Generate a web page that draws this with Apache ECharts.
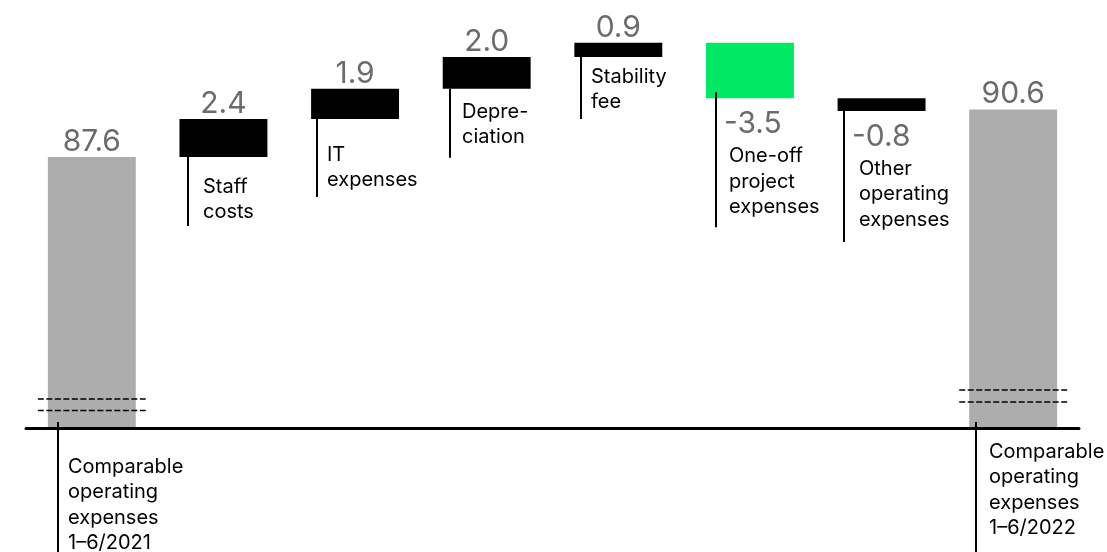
<!DOCTYPE html>
<html>
<head>
<meta charset="utf-8">
<script src="https://cdn.jsdelivr.net/npm/echarts@6/dist/echarts.min.js"></script>
<style>
  html, body { margin: 0; padding: 0; background: #fff; }
  #chart { width: 1107px; height: 552px; }
</style>
</head>
<body>
<div id="chart"></div>
<script>
// Operating expenses bridge, 1–6/2021 to 1–6/2022 (EUR million)
const categories = [
  'Comparable\noperating\nexpenses\n1–6/2021',
  'Staff\ncosts',
  'IT\nexpenses',
  'Depre-\nciation',
  'Stability\nfee',
  'One-off\nproject\nexpenses',
  'Other\noperating\nexpenses',
  'Comparable\noperating\nexpenses\n1–6/2022'
];
const values = [87.6, 2.4, 1.9, 2.0, 0.9, -3.5, -0.8, 90.6];
const kinds = ['total', 'delta', 'delta', 'delta', 'delta', 'delta', 'delta', 'total'];

// Bar colours
const barColors = ['#adadad', '#000000', '#000000', '#000000', '#000000', '#00e864', '#000000', '#adadad'];

// Label layout (pixels, relative to each bar's bottom edge)
const leaderShift = [10, 9, 6, 7, 7, 10, 6, 7];       // leader line from bar's left edge
const leaderLength = [140, 69, 78, 69, 62, 129, 131, 140];
const textShift = [10, 15, 10, 12, 10, 13, 15, 13];   // text from leader line
const textDrop = [31, 22, 28, 15, 12, 50, 50, 16];    // first line below bar bottom
const breakMarks = [[29, 17.5], [], [], [], [], [], [], [38, 26]];

// Truncated value axis
const yMin = 70.5, yMax = 97.5;

// Floating bar extents
const lows = [], highs = [];
let running = 0;
values.forEach((v, i) => {
  if (kinds[i] === 'total') {
    lows.push(yMin); highs.push(v); running = v;
  } else {
    lows.push(running + Math.min(0, v));
    highs.push(running + Math.max(0, v));
    running += v;
  }
});

const FONT = 'Inter, "Noto Sans", sans-serif';

function renderItem(params, api) {
  const i = params.dataIndex;
  const lo = api.value(1), hi = api.value(2);
  const band = api.size([1, 0])[0];
  const w = band * 0.668;
  const pTop = api.coord([i, hi]);
  const pBot = api.coord([i, lo]);
  const cx = pTop[0];
  const top = pTop[1];
  const bottom = pBot[1];
  const left = cx - w / 2;
  const isTotal = kinds[i] === 'total';
  const kids = [];

  kids.push({
    type: 'rect',
    shape: { x: left, y: top, width: w, height: (isTotal ? bottom + 2 : bottom) - top },
    style: { fill: barColors[i] }
  });

  breakMarks[i].forEach(off => {
    kids.push({
      type: 'line',
      shape: { x1: left - 10, y1: bottom - off, x2: left + w + 10, y2: bottom - off },
      style: { stroke: '#000', lineWidth: 1.5, lineDash: [6, 2.5] }
    });
  });

  const lx = Math.round(left + leaderShift[i]);
  kids.push({
    type: 'line',
    shape: { x1: lx, y1: isTotal ? bottom - 6 : bottom - (values[i] < 0 ? 6 : 0), x2: lx, y2: bottom + leaderLength[i] },
    style: { stroke: '#000', lineWidth: 2 }
  });

  const valText = values[i].toFixed(1);
  if (isTotal || values[i] >= 0) {
    kids.push({
      type: 'text',
      style: {
        text: valText, x: cx, y: top,
        align: 'center', verticalAlign: 'bottom',
        font: '30px ' + FONT, fill: '#6b6b6b'
      }
    });
  } else {
    kids.push({
      type: 'text',
      style: {
        text: valText, x: lx + 8, y: bottom + 11,
        align: 'left', verticalAlign: 'top', lineHeight: 30,
        font: '30px ' + FONT, fill: '#6b6b6b'
      }
    });
  }

  kids.push({
    type: 'text',
    style: {
      text: categories[i], x: lx + textShift[i], y: bottom + textDrop[i] - 5,
      align: 'left', verticalAlign: 'top', lineHeight: 25.5,
      font: '20px ' + FONT, fill: '#000'
    }
  });

  return { type: 'group', children: kids };
}

const chart = echarts.init(document.getElementById('chart'), null, { renderer: 'canvas' });
chart.setOption({
  animation: false,
  grid: { left: 26, right: 28, top: 0, bottom: 124, containLabel: false },
  xAxis: {
    type: 'category',
    data: categories,
    z: 10,
    axisLine: { show: true, lineStyle: { color: '#000', width: 3 } },
    axisTick: { show: false },
    axisLabel: { show: false },
    splitLine: { show: false }
  },
  yAxis: {
    type: 'value', min: yMin, max: yMax, show: false,
    splitLine: { show: false }
  },
  series: [{
    type: 'custom',
    renderItem: renderItem,
    clip: false,
    encode: { x: 0, y: [1, 2] },
    data: categories.map((c, i) => [i, lows[i], highs[i]])
  }]
});
</script>
</body>
</html>
